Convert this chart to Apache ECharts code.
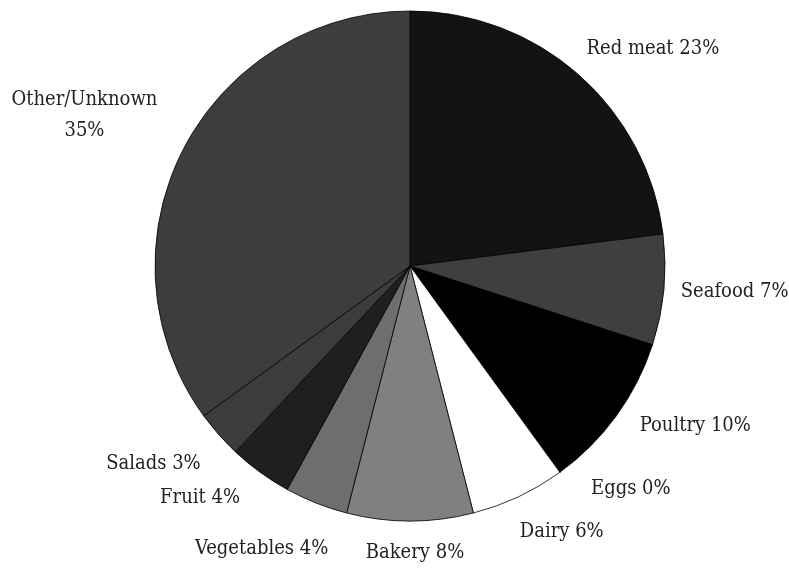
<!DOCTYPE html>
<html>
<head>
<meta charset="utf-8">
<script src="https://cdn.jsdelivr.net/npm/echarts@6/dist/echarts.min.js"></script>
<style>
  html, body { margin: 0; padding: 0; background: #fff; }
  #chart { width: 789px; height: 569px; }
</style>
</head>
<body>
<div id="chart"></div>
<script>
// Share of cases by food category (percent)
const categories = ['Red meat', 'Seafood', 'Poultry', 'Eggs', 'Dairy', 'Bakery', 'Vegetables', 'Fruit', 'Salads', 'Other/Unknown'];
const shares = [23, 7, 10, 0, 6, 8, 4, 4, 3, 35];
const sliceColors = ['#131313', '#3f3f3f', '#000000', '#5a5a5a', '#ffffff', '#808080', '#6e6e6e', '#1f1f1f', '#3c3c3c', '#3d3d3d'];

const LABEL_FONT = 'DejaVu Serif Condensed, DejaVu Serif, serif';

// Small hand offsets for the outside labels, by category
const labelNudge = {
  'Red meat':      { dx: -13, dy: -8 },
  'Seafood':       { dx: -12, dy: 0 },
  'Poultry':       { dx: -1,  dy: -4 },
  'Eggs':          { dx: 12,  dy: -3 },
  'Dairy':         { dx: -14, dy: 13 },
  'Bakery':        { dx: 0,   dy: 8, center: true },
  'Vegetables':    { dx: 26,  dy: 23 },
  'Fruit':         { dx: -1,  dy: 6 },
  'Salads':        { dx: 5,   dy: 13 },
  'Other/Unknown': { dx: 1,   dy: -24, center: true }
};

const labelText = (name, value) =>
  name === 'Other/Unknown' ? name + '\n' + value + '%' : name + ' ' + value + '%';

const chart = echarts.init(document.getElementById('chart'), null, { renderer: 'canvas' });

const data = categories.map((name, i) => ({
  name,
  value: shares[i],
  itemStyle: { color: sliceColors[i] }
}));

chart.setOption({
  animation: false,
  backgroundColor: '#ffffff',
  series: [{
    type: 'pie',
    center: [410, 266],
    radius: [0, 255],
    startAngle: 90,
    clockwise: true,
    avoidLabelOverlap: false,
    itemStyle: { borderColor: '#000', borderWidth: 0.8 },
    label: {
      show: true,
      position: 'outside',
      formatter: p => labelText(p.name, p.value),
      fontFamily: LABEL_FONT,
      fontSize: 20,
      color: '#222',
      lineHeight: 31
    },
    labelLine: { show: false, length: 24, length2: 0 },
    labelLayout: params => {
      const n = labelNudge[categories[params.dataIndex]] || { dx: 0, dy: 0 };
      const out = { dx: n.dx, dy: n.dy };
      if (n.center) {
        out.align = 'center';
        // right-aligned labels are anchored on their right edge
        if (params.align === 'right') out.dx = n.dx - params.labelRect.width / 2;
      }
      return out;
    },
    emphasis: { disabled: true },
    data
  }]
});
</script>
</body>
</html>
